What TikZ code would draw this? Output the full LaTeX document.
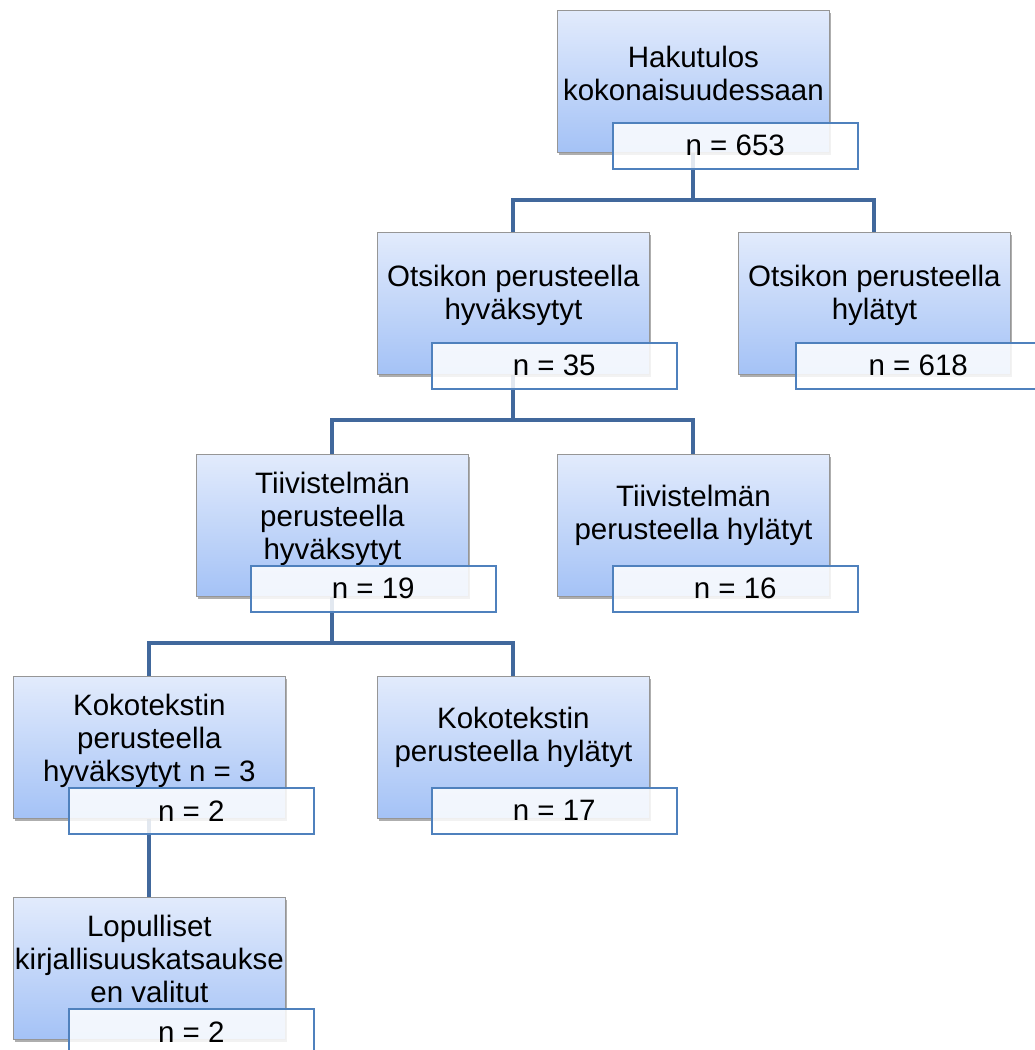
\documentclass[tikz,border=0pt]{standalone}
\usepackage{fontspec}
\setmainfont{Liberation Sans}
\usetikzlibrary{shadows}
\definecolor{cblue}{RGB}{65,104,156}
\definecolor{lblue}{RGB}{79,129,189}
\definecolor{btop}{RGB}{226,235,252}
\definecolor{bbot}{RGB}{164,194,246}
\definecolor{bgray}{RGB}{150,150,150}
\newcommand{\fsz}{\fontsize{29.5}{33}\selectfont}
\begin{document}
\begin{tikzpicture}[x=1pt,y=-1pt,
  box/.style={draw=bgray, line width=0.8pt, top color=btop, bottom color=bbot,
    minimum width=272pt, minimum height=142pt, anchor=north west, inner sep=0pt,
    drop shadow={shadow xshift=2pt, shadow yshift=-3pt, opacity=0.45, fill=black!70}},
  lab/.style={draw=lblue, line width=1.5pt, fill=white, fill opacity=0.85, text opacity=1,
    minimum width=245pt, minimum height=46pt, anchor=north west, inner sep=0pt, font=\fsz},
  txt/.style={align=center, font=\fsz, inner sep=0pt},
  conn/.style={draw=cblue, line width=4pt}]
\useasboundingbox (0,0) rectangle (1035,1050);
\fill[white] (0,0) rectangle (1035,1050);

% junction coordinates
\coordinate (j1) at (0,200);
\coordinate (j2) at (0,420);
\coordinate (j3) at (0,643);

% box frames (positions)
\coordinate (p1) at (557,10);
\coordinate (p2) at (377,232);
\coordinate (p3) at (738,232);
\coordinate (p4) at (196,454);
\coordinate (p5) at (557,454);
\coordinate (p6) at (13,676);
\coordinate (p7) at (377,676);
\coordinate (p8) at (13,897);

% connectors first (drawn behind)
\path (p1) ++(136,71) coordinate (c1);
\path (p2) ++(136,71) coordinate (c2);
\path (p3) ++(136,71) coordinate (c3);
\path (p4) ++(136,71) coordinate (c4);
\path (p5) ++(136,71) coordinate (c5);
\path (p6) ++(136,71) coordinate (c6);
\path (p7) ++(136,71) coordinate (c7);
\path (p8) ++(136,71) coordinate (c8);

\draw[conn] (c1) -- (c1 |- j1) -| (c2);
\draw[conn] (c1 |- j1) -| (c3);
\draw[conn] (c2) -- (c2 |- j2) -| (c4);
\draw[conn] (c2 |- j2) -| (c5);
\draw[conn] (c4) -- (c4 |- j3) -| (c6);
\draw[conn] (c4 |- j3) -| (c7);
\draw[conn] (c6) -- (c8);

% boxes
\node[box] (b1) at (p1) {};
\node[box] (b2) at (p2) {};
\node[box] (b3) at (p3) {};
\node[box] (b4) at (p4) {};
\node[box] (b5) at (p5) {};
\node[box] (b6) at (p6) {};
\node[box] (b7) at (p7) {};
\node[box] (b8) at (p8) {};

% box texts
\node[txt] (t1) at ([yshift=8pt]b1.center) {Hakutulos\\kokonaisuudessaan};
\node[txt] (t2) at ([yshift=8pt]b2.center) {Otsikon perusteella\\hyväksytyt};
\node[txt] (t3) at ([yshift=8pt]b3.center) {Otsikon perusteella\\hylätyt};
\node[txt] (t4) at ([yshift=7pt]b4.center) {Tiivistelmän\\perusteella\\hyväksytyt};
\node[txt] (t5) at ([yshift=10pt]b5.center) {Tiivistelmän\\perusteella hylätyt};
\node[txt] (t6) at ([yshift=7pt]b6.center) {Kokotekstin\\perusteella\\hyväksytyt n = 3};
\node[txt] (t7) at ([yshift=10pt]b7.center) {Kokotekstin\\perusteella hylätyt};
\node[txt] (t8) at ([yshift=9pt]b8.center) {Lopulliset\\kirjallisuuskatsaukse\\en valitut};

% labels
\node[lab] (l1) at (612,122) {n = 653};
\node[lab] (l2) at (431,342) {n = 35};
\node[lab] (l3) at (795,342) {n = 618};
\node[lab] (l4) at (250,565) {n = 19};
\node[lab] (l5) at (612,565) {n = 16};
\node[lab] (l6) at (68,787) {n = 2};
\node[lab] (l7) at (431,787) {n = 17};
\node[lab] (l8) at (68,1008) {n = 2};
\end{tikzpicture}
\end{document}
